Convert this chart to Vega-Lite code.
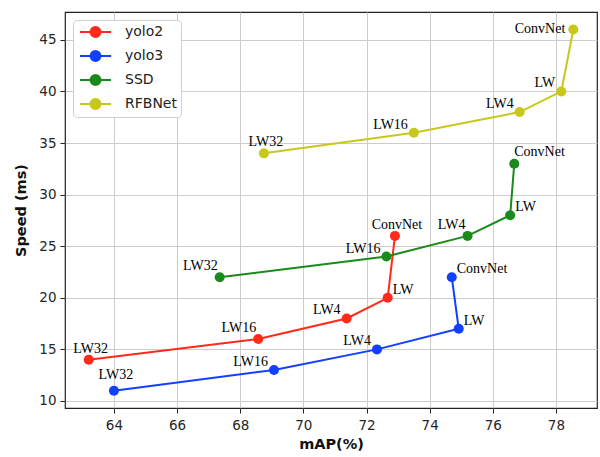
{
  "$schema": "https://vega.github.io/schema/vega-lite/v6.json",
  "width": 532,
  "height": 396,
  "autosize": {"type": "none"},
  "padding": {"left": 65, "top": 12, "right": 3, "bottom": 49},
  "background": "white",
  "config": {
    "view": {"stroke": "#222222", "strokeWidth": 1.2},
    "axis": {
      "labelFont": "DejaVu Sans", "labelFontSize": 13.5, "labelColor": "#262626",
      "titleFont": "DejaVu Sans", "titleFontSize": 14.5, "titleFontWeight": "bold", "titleColor": "#111111",
      "gridColor": "#cccccc", "gridWidth": 1, "gridOpacity": 1,
      "tickColor": "#222222", "tickSize": 5, "domain": false
    },
    "text": {"font": "Liberation Serif", "fontSize": 14, "color": "#000000", "baseline": "alphabetic"}
  },
  "data": {
    "values": [
      {"series": "yolo2", "label": "LW32", "step": 1, "map": 63.2, "speed": 14},
      {"series": "yolo2", "label": "LW16", "step": 2, "map": 68.57, "speed": 16},
      {"series": "yolo2", "label": "LW4", "step": 3, "map": 71.37, "speed": 18},
      {"series": "yolo2", "label": "LW", "step": 4, "map": 72.67, "speed": 20},
      {"series": "yolo2", "label": "ConvNet", "step": 5, "map": 72.9, "speed": 26},
      {"series": "yolo3", "label": "LW32", "step": 1, "map": 64.0, "speed": 11},
      {"series": "yolo3", "label": "LW16", "step": 2, "map": 69.07, "speed": 13},
      {"series": "yolo3", "label": "LW4", "step": 3, "map": 72.33, "speed": 15},
      {"series": "yolo3", "label": "LW", "step": 4, "map": 74.92, "speed": 17},
      {"series": "yolo3", "label": "ConvNet", "step": 5, "map": 74.7, "speed": 22},
      {"series": "SSD", "label": "LW32", "step": 1, "map": 67.35, "speed": 22},
      {"series": "SSD", "label": "LW16", "step": 2, "map": 72.63, "speed": 24},
      {"series": "SSD", "label": "LW4", "step": 3, "map": 75.2, "speed": 26},
      {"series": "SSD", "label": "LW", "step": 4, "map": 76.55, "speed": 28},
      {"series": "SSD", "label": "ConvNet", "step": 5, "map": 76.68, "speed": 33},
      {"series": "RFBNet", "label": "LW32", "step": 1, "map": 68.75, "speed": 34},
      {"series": "RFBNet", "label": "LW16", "step": 2, "map": 73.5, "speed": 36},
      {"series": "RFBNet", "label": "LW4", "step": 3, "map": 76.85, "speed": 38},
      {"series": "RFBNet", "label": "LW", "step": 4, "map": 78.17, "speed": 40},
      {"series": "RFBNet", "label": "ConvNet", "step": 5, "map": 78.55, "speed": 46}
    ]
  },
  "encoding": {
    "x": {"field": "map", "type": "quantitative", "title": "mAP(%)",
      "scale": {"domain": [62.45, 79.3], "nice": false, "zero": false},
      "axis": {"values": [64, 66, 68, 70, 72, 74, 76, 78], "labelPadding": 5, "titlePadding": 6}},
    "y": {"field": "speed", "type": "quantitative", "title": "Speed (ms)",
      "scale": {"domain": [9.32, 47.7], "nice": false, "zero": false},
      "axis": {"values": [10, 15, 20, 25, 30, 35, 40, 45], "labelPadding": 4, "titlePadding": 10}}
  },
  "layer": [
    {
      "mark": {"type": "line", "strokeWidth": 2},
      "encoding": {
        "color": {"field": "series", "type": "nominal",
          "scale": {"domain": ["yolo2", "yolo3", "SSD", "RFBNet"], "range": ["#ff2a1a", "#1240ff", "#1a8a1a", "#c8c81a"]},
          "legend": {
            "title": null, "orient": "top-left", "offset": 8,
            "symbolType": "M-0.71,0H0.79A0.71,0.71,0,1,1,2.21,0H3.72M2.21,0A0.71,0.71,0,1,1,0.79,0",
            "symbolSize": 196, "symbolStrokeWidth": 2,
            "labelFont": "DejaVu Sans", "labelFontSize": 14, "labelColor": "#222222",
            "labelOffset": 32, "rowPadding": 6,
            "fillColor": "white", "strokeColor": "#d0d0d0", "cornerRadius": 4,
            "padding": 4,
            "encode": {"symbols": {"update": {"fill": {"scale": "color", "field": "value"}, "stroke": {"scale": "color", "field": "value"}, "fillOpacity": {"value": 1}}}}
          }},
        "order": {"field": "step", "type": "quantitative"}
      }
    },
    {
      "mark": {"type": "point", "filled": true, "size": 100, "opacity": 1},
      "encoding": {
        "color": {"field": "series", "type": "nominal"}
      }
    },
    {
      "transform": [{"filter": "indexof(['RFBNet|LW16','RFBNet|LW4','SSD|LW16','yolo2|LW4','yolo3|LW16','yolo3|LW4','RFBNet|LW'], datum.series + '|' + datum.label) >= 0"}],
      "mark": {"type": "text", "align": "right", "dx": -6, "dy": -4},
      "encoding": {"text": {"field": "label"}}
    },
    {
      "transform": [{"filter": "indexof(['SSD|LW32','yolo2|LW16','SSD|LW4'], datum.series + '|' + datum.label) >= 0"}],
      "mark": {"type": "text", "align": "right", "dx": -2, "dy": -7},
      "encoding": {"text": {"field": "label"}}
    },
    {
      "transform": [{"filter": "indexof(['RFBNet|LW32','yolo2|LW32','yolo2|ConvNet'], datum.series + '|' + datum.label) >= 0"}],
      "mark": {"type": "text", "align": "center", "dx": 2, "dy": -7},
      "encoding": {"text": {"field": "label"}}
    },
    {
      "transform": [{"filter": "datum.series == 'yolo3' && datum.label == 'LW32'"}],
      "mark": {"type": "text", "align": "center", "dx": 2, "dy": -12},
      "encoding": {"text": {"field": "label"}}
    },
    {
      "transform": [{"filter": "indexof(['yolo2|LW','yolo3|LW','yolo3|ConvNet','SSD|LW'], datum.series + '|' + datum.label) >= 0"}],
      "mark": {"type": "text", "align": "left", "dx": 5, "dy": -4},
      "encoding": {"text": {"field": "label"}}
    },
    {
      "transform": [{"filter": "datum.series == 'SSD' && datum.label == 'ConvNet'"}],
      "mark": {"type": "text", "align": "left", "dx": 0, "dy": -8},
      "encoding": {"text": {"field": "label"}}
    },
    {
      "transform": [{"filter": "datum.series == 'RFBNet' && datum.label == 'ConvNet'"}],
      "mark": {"type": "text", "align": "right", "dx": -8, "dy": 3},
      "encoding": {"text": {"field": "label"}}
    }
  ]
}
